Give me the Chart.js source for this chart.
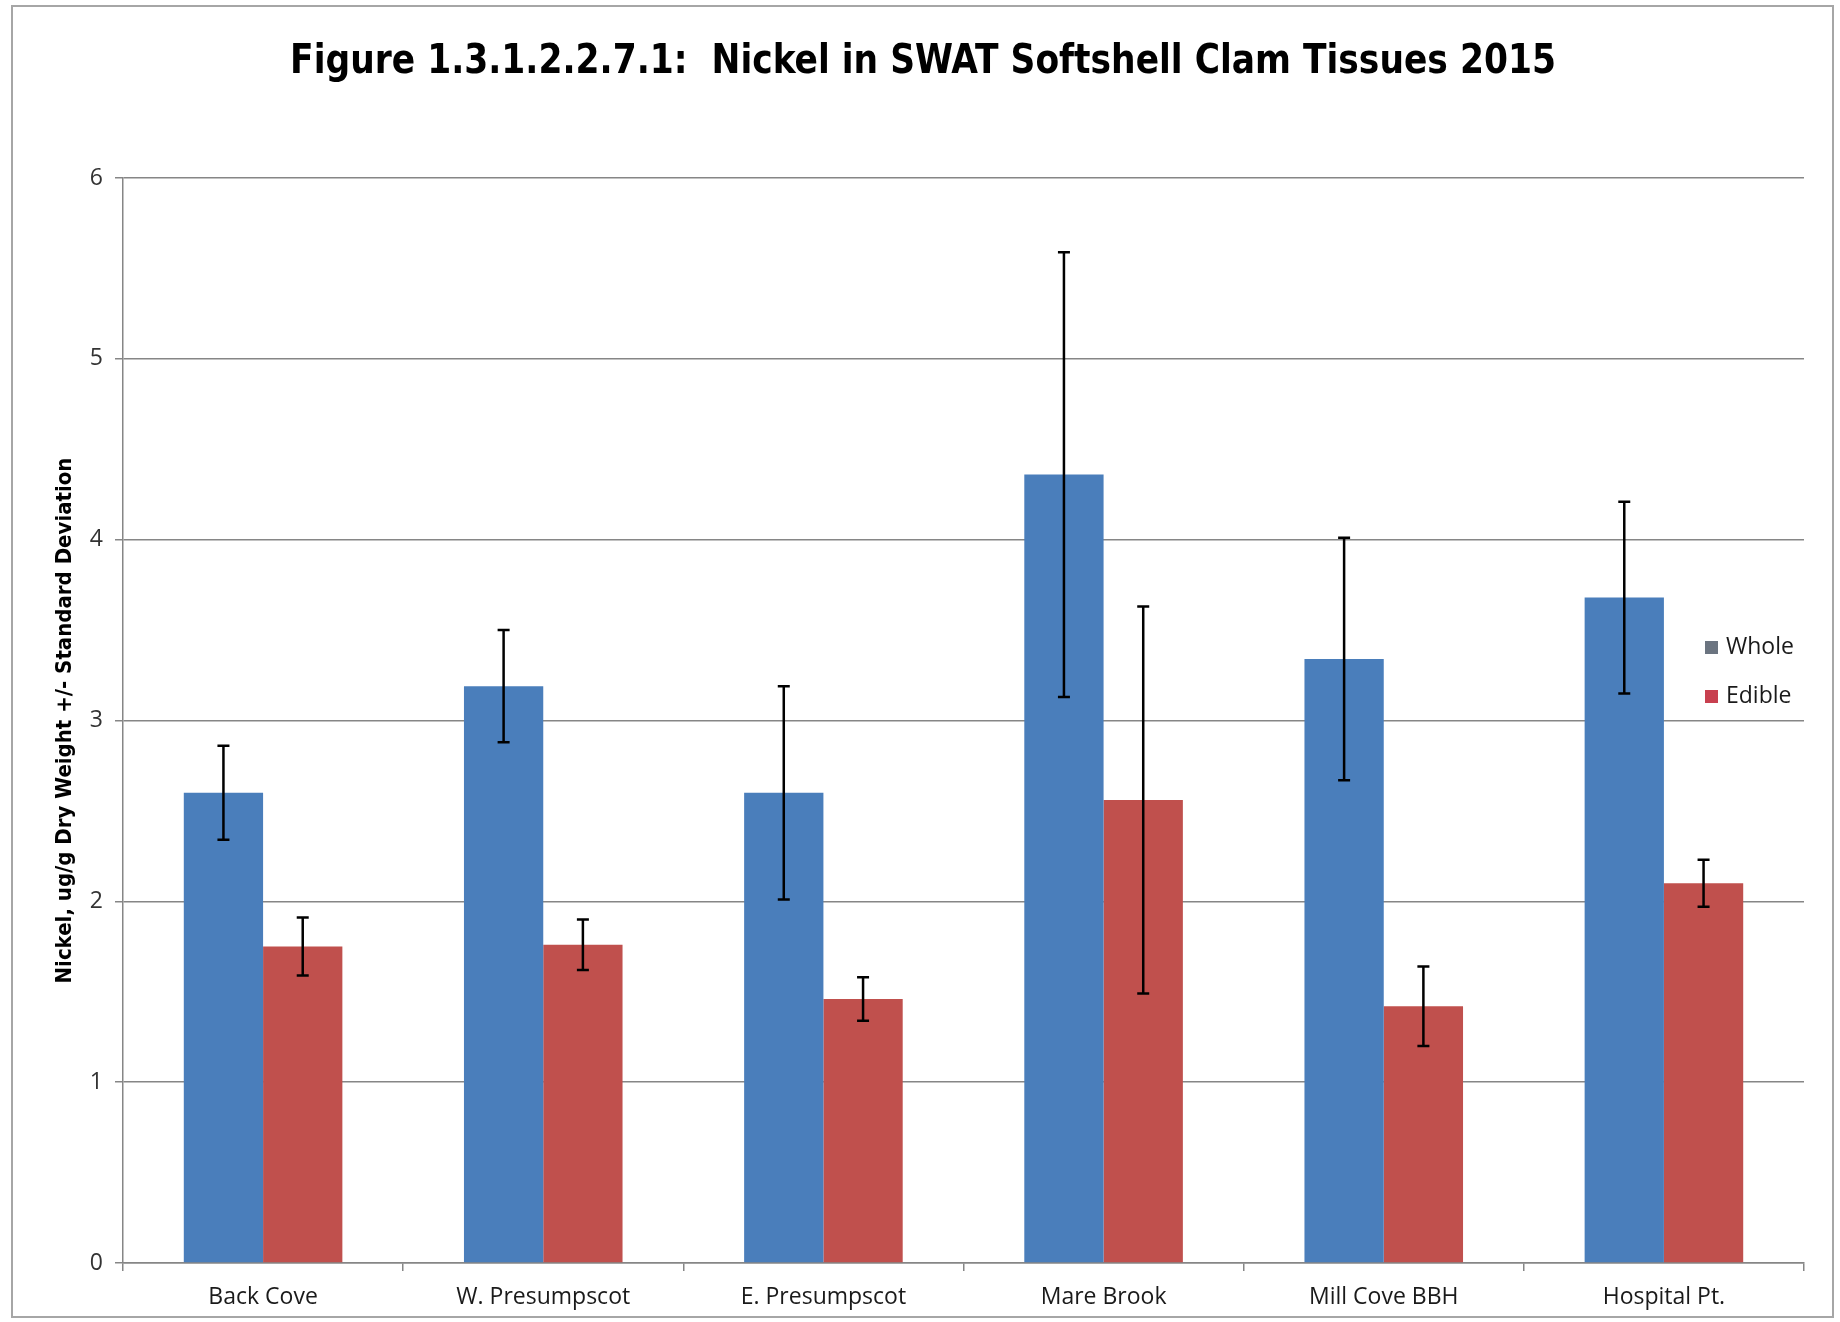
<!DOCTYPE html>
<html><head><meta charset="utf-8">
<script src="https://cdn.jsdelivr.net/npm/chart.js@4/dist/chart.umd.min.js"></script>
<style>html,body{margin:0;padding:0;background:#fff}#wrap{width:1840px;height:1322px;position:relative}</style>
</head><body><div id="wrap"><canvas id="c" width="1840" height="1322"></canvas></div>
<script>
const categories = ['Back Cove', 'W. Presumpscot', 'E. Presumpscot', 'Mare Brook', 'Mill Cove BBH', 'Hospital Pt.'];
const wholeMeans = [2.60, 3.19, 2.60, 4.36, 3.34, 3.68];
const wholeSD    = [0.26, 0.31, 0.59, 1.23, 0.67, 0.53];
const edibleMeans = [1.75, 1.76, 1.46, 2.56, 1.42, 2.10];
const edibleSD    = [0.16, 0.14, 0.12, 1.07, 0.22, 0.13];
const yTicks = [0, 1, 2, 3, 4, 5, 6];
const seriesNames = ['Whole', 'Edible'];
const chartTitle = 'Figure 1.3.1.2.2.7.1:  Nickel in SWAT Softshell Clam Tissues 2015';

const NARROW = '"DejaVu Sans Condensed", "Liberation Sans Narrow", "Open Sans", sans-serif';
const BODY = '"Open Sans", "Noto Sans", sans-serif';

const framePlugin = {
  id: 'frame',
  beforeDraw(chart) {
    const ctx = chart.ctx;
    ctx.save();
    ctx.fillStyle = '#ffffff';
    ctx.fillRect(0, 0, chart.width, chart.height);
    ctx.strokeStyle = '#a6a6a6';
    ctx.lineWidth = 2;
    ctx.strokeRect(12, 6, 1821, 1311);
    ctx.restore();
  }
};

const titlePlugin = {
  id: 'narrowTitle',
  afterDraw(chart) {
    const ctx = chart.ctx;
    ctx.save();
    ctx.font = 'bold 41px ' + NARROW;
    ctx.fillStyle = '#000000';
    ctx.textAlign = 'center';
    ctx.textBaseline = 'alphabetic';
    ctx.translate(923, 73);
    ctx.scale(0.935, 1);
    ctx.fillText(chartTitle, 0, 0);
    ctx.restore();
  }
};

const errorBarPlugin = {
  id: 'errorBars',
  afterDatasetsDraw(chart) {
    const ctx = chart.ctx;
    const y = chart.scales.y;
    const sds = [wholeSD, edibleSD];
    ctx.save();
    ctx.strokeStyle = '#000000';
    ctx.lineWidth = 2.5;
    chart.data.datasets.forEach((ds, i) => {
      const meta = chart.getDatasetMeta(i);
      meta.data.forEach((bar, j) => {
        const m = ds.data[j], s = sds[i][j];
        const yt = y.getPixelForValue(m + s), yb = y.getPixelForValue(m - s);
        const x = bar.x, cap = 6;
        ctx.beginPath();
        ctx.moveTo(x, yt); ctx.lineTo(x, yb);
        ctx.moveTo(x - cap, yt); ctx.lineTo(x + cap, yt);
        ctx.moveTo(x - cap, yb); ctx.lineTo(x + cap, yb);
        ctx.stroke();
      });
    });
    ctx.restore();
  }
};

const legendPlugin = {
  id: 'customLegend',
  afterDraw(chart) {
    const ctx = chart.ctx;
    const marks = ['#6b7480', '#c8404f'];
    const ys = [647, 696];
    ctx.save();
    ctx.font = '23px ' + BODY;
    ctx.textBaseline = 'middle';
    seriesNames.forEach((n, i) => {
      ctx.fillStyle = marks[i];
      ctx.fillRect(1705, ys[i] - 6, 13, 13);
      ctx.fillStyle = '#1a1a1a';
      ctx.fillText(n, 1726, ys[i]);
    });
    ctx.restore();
  }
};

new Chart(document.getElementById('c'), {
  type: 'bar',
  data: {
    labels: categories,
    datasets: [
      { label: seriesNames[0], data: wholeMeans, backgroundColor: '#4a7ebb', borderWidth: 0 },
      { label: seriesNames[1], data: edibleMeans, backgroundColor: '#c0504d', borderWidth: 0 }
    ]
  },
  options: {
    responsive: false,
    animation: false,
    devicePixelRatio: 1,
    layout: { padding: { left: 12, right: 36, top: 178, bottom: 0 } },
    datasets: { bar: { categoryPercentage: 0.566, barPercentage: 1.0 } },
    plugins: {
      legend: { display: false },
      tooltip: { enabled: false },
      title: { display: false }
    },
    scales: {
      x: {
        offset: true,
        grid: { display: true, drawOnChartArea: false, drawTicks: true, tickLength: 8, color: '#868686', lineWidth: 1.5, offset: true },
        border: { display: true, color: '#868686', width: 1.5 },
        ticks: { color: '#1a1a1a', font: { family: BODY, size: 23 }, padding: 13, maxRotation: 0 },
        afterFit(s) { s.height = 59; }
      },
      y: {
        min: 0, max: 6,
        afterBuildTicks(s) { s.ticks = yTicks.map(v => ({ value: v })); },
        grid: { color: '#868686', lineWidth: 1.5, tickLength: 8, drawTicks: true },
        border: { display: true, color: '#868686', width: 1.5 },
        ticks: { color: '#333333', font: { family: BODY, size: 23 }, padding: 12 },
        title: {
          display: true,
          text: 'Nickel, ug/g Dry Weight +/- Standard Deviation',
          color: '#000000',
          font: { family: NARROW, size: 22, weight: 'bold' },
          padding: { top: 40, bottom: 0 }
        },
        afterFit(s) { s.width = 111; }
      }
    }
  },
  plugins: [framePlugin, errorBarPlugin, legendPlugin, titlePlugin]
});
</script>
</body></html>
